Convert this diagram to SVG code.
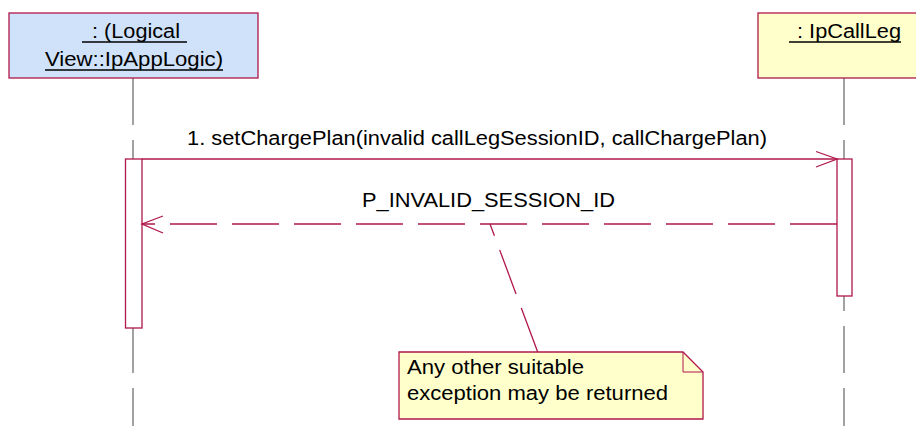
<svg xmlns="http://www.w3.org/2000/svg" width="916" height="426" viewBox="0 0 916 426">
<defs>
<style>
.t{font-family:"Liberation Sans",Arial,sans-serif;font-size:20px;fill:#000}
.obj{stroke:#b0174a;stroke-width:1.3}
.life{stroke:#707070;stroke-width:1.3;stroke-dasharray:47 15;fill:none}
.act{fill:#fff;stroke:#b0174a;stroke-width:1.3}
.msg{stroke:#b0174a;stroke-width:1.3;fill:none}
.dash{stroke-dasharray:47 15}
.ul{stroke:#000;stroke-width:1.3}
</style>
</defs>
<rect width="916" height="426" fill="#fff"/>
<g id="lifelines">
<line class="life" x1="133" y1="78" x2="133" y2="426"/>
<line class="life" x1="844" y1="78" x2="844" y2="426"/>
</g>
<g id="appLogic">
<rect class="obj" x="9" y="13" width="249" height="65" fill="#cfe2f9"/>
<text class="t" x="92" y="38" textLength="88" lengthAdjust="spacingAndGlyphs">: (Logical</text>
<line class="ul" x1="82" y1="42" x2="187" y2="42"/>
<text class="t" x="45" y="66" textLength="178" lengthAdjust="spacingAndGlyphs">View::IpAppLogic)</text>
<line class="ul" x1="45" y1="70" x2="223" y2="70"/>
<rect class="act" x="125.5" y="159" width="16.5" height="169"/>
</g>
<g id="callLeg">
<rect class="obj" x="758" y="13" width="172" height="65" fill="#ffffcc"/>
<text class="t" x="797" y="38" textLength="104" lengthAdjust="spacingAndGlyphs">: IpCallLeg</text>
<line class="ul" x1="789" y1="42" x2="901" y2="42"/>
<rect class="act" x="837" y="159" width="15" height="137"/>
</g>
<g id="note">
<path d="M399,352 H683 L703,372 V419 H399 Z" fill="#ffffcc" stroke="#b0174a" stroke-width="1.3"/>
<path d="M683,352 V372 H703" fill="none" stroke="#b0174a" stroke-width="1"/>
<text class="t" x="407" y="374" textLength="177" lengthAdjust="spacingAndGlyphs">Any other suitable</text>
<text class="t" x="407" y="400" textLength="261" lengthAdjust="spacingAndGlyphs">exception may be returned</text>
</g>
<g id="connectors">
<line class="msg" x1="142" y1="159" x2="837" y2="159"/>
<polyline class="msg" points="816,151.5 837,159 816,167"/>
<text class="t" x="187" y="145" textLength="580" lengthAdjust="spacingAndGlyphs">1. setChargePlan(invalid callLegSessionID, callChargePlan)</text>
<line class="msg dash" x1="837" y1="224" x2="142" y2="224"/>
<polyline class="msg" points="163,216 142,224 163,233"/>
<text class="t" x="362" y="207" textLength="253" lengthAdjust="spacingAndGlyphs">P_INVALID_SESSION_ID</text>
<line class="msg dash" x1="537.7" y1="352" x2="490" y2="224"/>
</g>
</svg>
